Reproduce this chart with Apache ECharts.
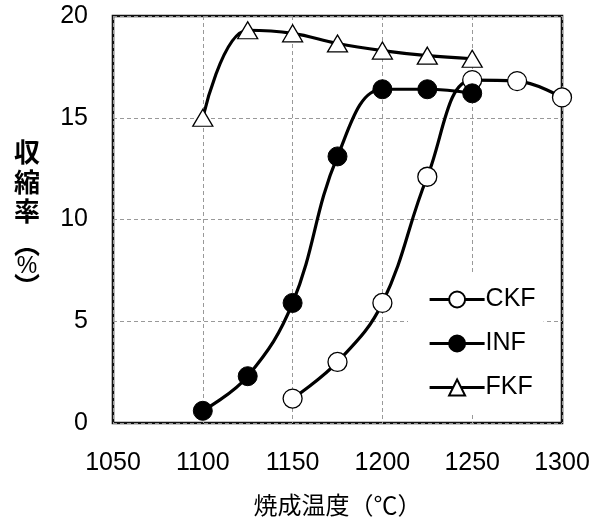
<!DOCTYPE html>
<html>
<head>
<meta charset="utf-8">
<script src="https://cdn.jsdelivr.net/npm/echarts@6/dist/echarts.min.js"></script>
<style>
  html, body { margin: 0; padding: 0; background: #fff; }
  #chart { width: 602px; height: 524px; }
</style>
</head>
<body>
<div id="chart"></div>
<script>
// Shrinkage (%) against firing temperature (°C) for each sample
const ckfTemps = [1150, 1175, 1200, 1225, 1250, 1275, 1300];
const ckfValues = [1.2, 3.0, 5.9, 12.1, 16.85, 16.8, 16.0];

const infTemps = [1100, 1125, 1150, 1175, 1200, 1225, 1250];
const infValues = [0.6, 2.3, 5.9, 13.1, 16.4, 16.4, 16.2];

const fkfTemps = [1100, 1125, 1150, 1175, 1200, 1225, 1250];
const fkfValues = [15.0, 19.3, 19.15, 18.65, 18.3, 18.05, 17.9];

const seriesNames = ['CKF', 'INF', 'FKF'];
const xTicks = [1050, 1100, 1150, 1200, 1250, 1300];
const yTicks = [0, 5, 10, 15, 20];

const yTitleChars = ['収', '縮', '率', '︵', '%', '︶'];
const xTitle = '焼成温度（℃）';

const pair = (xs, ys) => xs.map((x, i) => [x, ys[i]]);

const numFont = '"Liberation Sans", Arial, sans-serif';
const cjkFont = '"Noto Sans CJK JP", sans-serif';

const chart = echarts.init(document.getElementById('chart'), null, { renderer: 'canvas' });

const lineCommon = {
  type: 'line',
  smooth: 0.4,
  lineStyle: { color: '#000', width: 3.2 },
  z: 3
};

// vertical axis title, one glyph per line
const yTitleY = [152, 182, 211, 244, 267, 286];
const graphics = yTitleChars.map((ch, i) => ({
  type: 'text',
  x: 27,
  y: yTitleY[i],
  style: {
    text: ch,
    align: 'center',
    verticalAlign: 'middle',
    font: (ch === '%' ? '23px ' + numFont : 'bold 26px ' + cjkFont),
    fill: '#000'
  }
}));

chart.setOption({
  animation: false,
  backgroundColor: '#fff',
  graphic: graphics,
  grid: {
    left: 113, top: 16, right: 40, bottom: 101,
    show: true, borderColor: '#111', borderWidth: 2.6, backgroundColor: '#fff'
  },
  legend: {
    orient: 'vertical',
    left: 408,
    top: 273,
    itemWidth: 55,
    itemHeight: 20,
    itemGap: 19,
    padding: [14, 8, 12, 20],
    backgroundColor: '#fff',
    lineStyle: { color: '#000', width: 3.2 },
    textStyle: { fontFamily: numFont, fontSize: 25, color: '#000', padding: [0, 0, 0, -4] },
    data: seriesNames
  },
  xAxis: {
    type: 'value',
    min: 1050, max: 1300, interval: 50,
    name: xTitle,
    nameLocation: 'middle',
    nameGap: 70,
    nameTextStyle: { fontFamily: cjkFont, fontSize: 24, color: '#000' },
    axisLine: { show: false },
    axisTick: { show: false },
    axisLabel: {
      margin: 28, fontFamily: numFont, fontSize: 25, color: '#000',
      formatter: v => (xTicks.includes(v) ? String(v) : '')
    },
    splitLine: { show: true, lineStyle: { color: '#999', type: [4, 3], width: 1 } }
  },
  yAxis: {
    type: 'value',
    min: 0, max: 20, interval: 5,
    axisLine: { show: false },
    axisTick: { show: false },
    axisLabel: {
      margin: 25, fontFamily: numFont, fontSize: 25, color: '#000',
      formatter: v => (yTicks.includes(v) ? String(v) : '')
    },
    splitLine: { show: true, lineStyle: { color: '#999', type: [4, 3], width: 1 } }
  },
  series: [
    Object.assign({}, lineCommon, {
      name: seriesNames[0],
      data: pair(ckfTemps, ckfValues),
      symbol: 'circle', symbolSize: 19,
      itemStyle: { color: '#fff', borderColor: '#000', borderWidth: 1.3 }
    }),
    Object.assign({}, lineCommon, {
      name: seriesNames[1],
      data: pair(infTemps, infValues),
      symbol: 'circle', symbolSize: 19,
      itemStyle: { color: '#000', borderColor: '#000', borderWidth: 1 }
    }),
    Object.assign({}, lineCommon, {
      name: seriesNames[2],
      data: pair(fkfTemps, fkfValues),
      symbol: 'triangle', symbolSize: [20, 17],
      itemStyle: { color: '#fff', borderColor: '#000', borderWidth: 1.3 }
    })
  ]
});
</script>
</body>
</html>
